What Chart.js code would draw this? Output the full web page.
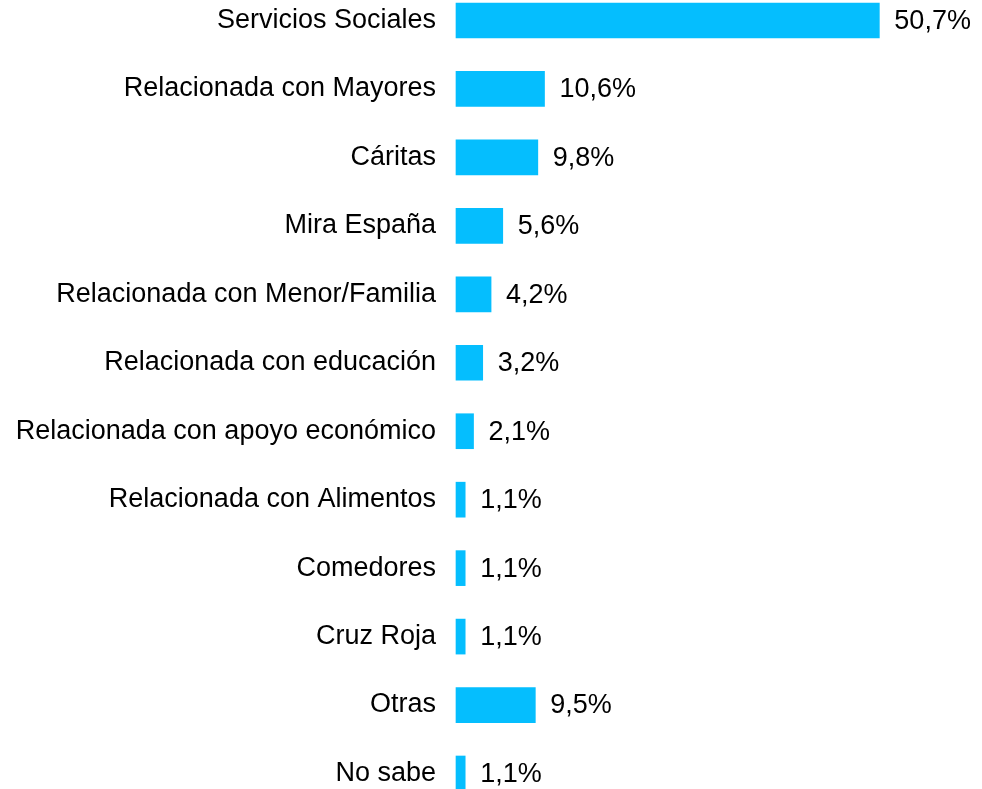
<!DOCTYPE html>
<html>
<head>
<meta charset="utf-8">
<script src="https://cdn.jsdelivr.net/npm/chart.js@4/dist/chart.umd.min.js"></script>
<style>
  html, body { margin: 0; padding: 0; background: #fff; }
  canvas { display: block; }
</style>
</head>
<body>
<canvas id="chart" width="982" height="789"></canvas>
<script>
const categories = [
  'Servicios Sociales',
  'Relacionada con Mayores',
  'Cáritas',
  'Mira España',
  'Relacionada con Menor/Familia',
  'Relacionada con educación',
  'Relacionada con apoyo económico',
  'Relacionada con Alimentos',
  'Comedores',
  'Cruz Roja',
  'Otras',
  'No sabe',
];
const values = [50.7, 10.6, 9.8, 5.6, 4.2, 3.2, 2.1, 1.1, 1.1, 1.1, 9.5, 1.1];

const FONT = 'Arial, "Liberation Sans", sans-serif';
const fmt = (v) => v.toFixed(1).replace('.', ',') + '%';

// value labels drawn just past the end of each bar
const barLabels = {
  id: 'barLabels',
  afterDatasetsDraw(chart) {
    const ctx = chart.ctx;
    const meta = chart.getDatasetMeta(0);
    ctx.save();
    ctx.font = '27px ' + FONT;
    ctx.fillStyle = '#000';
    ctx.textAlign = 'left';
    ctx.textBaseline = 'middle';
    meta.data.forEach((bar, i) => {
      ctx.fillText(fmt(values[i]), bar.x + 15, bar.y + 1);
    });
    ctx.restore();
  },
};

new Chart(document.getElementById('chart'), {
  type: 'bar',
  data: {
    labels: categories,
    datasets: [{
      data: values,
      backgroundColor: '#05BEFE',
      borderWidth: 0,
      barThickness: 35,
      clip: false,
    }],
  },
  options: {
    indexAxis: 'y',
    responsive: false,
    animation: false,
    layout: { padding: { top: 20.5, bottom: 15.5, left: 0, right: 25 } },
    plugins: { legend: { display: false }, tooltip: { enabled: false } },
    scales: {
      x: {
        min: 0,
        max: 60,
        display: false,
      },
      y: {
        offset: false,
        grid: { display: false, drawTicks: false },
        border: { display: false },
        ticks: {
          color: '#000',
          font: { family: FONT, size: 27 },
          padding: 20,
          autoSkip: false,
        },
        afterFit(scale) {
          scale.width = 456;
          scale.paddingTop = 0;
          scale.paddingBottom = 0;
        },
      },
    },
  },
  plugins: [barLabels],
});
</script>
</body>
</html>
